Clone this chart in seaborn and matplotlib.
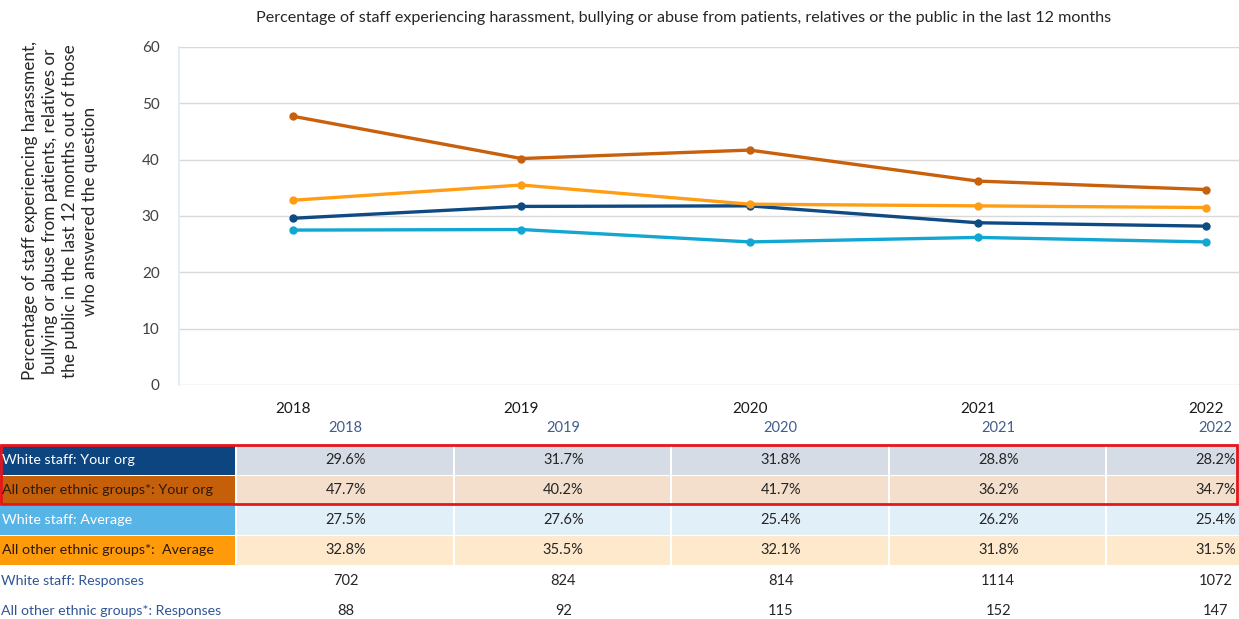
import seaborn as sns
import matplotlib.pyplot as plt
import matplotlib.patches as patches
import pandas as pd

# Data
years = ["2018", "2019", "2020", "2021", "2022"]
white_org = [29.6, 31.7, 31.8, 28.8, 28.2]
other_org = [47.7, 40.2, 41.7, 36.2, 34.7]
white_avg = [27.5, 27.6, 25.4, 26.2, 25.4]
other_avg = [32.8, 35.5, 32.1, 31.8, 31.5]
white_resp = [702, 824, 814, 1114, 1072]
other_resp = [88, 92, 115, 152, 147]

series_names = [
    "White staff: Your org",
    "All other ethnic groups*: Your org",
    "White staff: Average",
    "All other ethnic groups*:  Average",
]
line_colors = ["#0F4A82", "#C8600C", "#12A6D2", "#FF9E14"]
label_bg = ["#0C4580", "#C55F0A", "#56B4E6", "#FF9A0A"]
label_fg = ["white", "#2B1A0A", "white", "#2B1A0A"]
cell_bg = ["#D5DCE5", "#F4DFCD", "#E1EFF9", "#FFE9CC"]

sns.set_theme(style="white")
plt.rcParams['font.family'] = ['Lato', 'DejaVu Sans']

W, H = 1239, 619
fig = plt.figure(figsize=(W / 100, H / 100), dpi=100)

# Line chart
ax = fig.add_axes([179 / W, (H - 385) / H, (W - 179) / W, 338 / H])
rows = []
for name, vals in zip(series_names, [white_org, other_org, white_avg, other_avg]):
    for i, v in enumerate(vals):
        rows.append({"series": name, "x": i, "value": v})
df = pd.DataFrame(rows)
sns.lineplot(data=df, x="x", y="value", hue="series", palette=line_colors,
             marker="o", markersize=6, markeredgewidth=0, linewidth=2.4,
             legend=False, ax=ax)

ax.set_xlim(-0.5, (1239 - 293) / 228.25)
ax.set_ylim(0, 60)
ax.set_yticks(range(0, 61, 10))
ax.yaxis.grid(True, color="#D9D9D9", linewidth=1)
ax.set_axisbelow(True)
ax.set_xticks(range(len(years)))
ax.set_xticklabels(years, fontsize=11, color="#1A1A1A")
ax.tick_params(axis="y", labelsize=11, labelcolor="#404040", length=0, pad=14)
ax.tick_params(axis="x", length=0, pad=12)
for s in ["top", "right", "bottom"]:
    ax.spines[s].set_visible(False)
ax.spines["left"].set_color("#DDEBF7")
ax.set_xlabel("")
ax.set_ylabel("")

fig.text(684 / W, 1 - 18 / H,
         "Percentage of staff experiencing harassment, bullying or abuse from patients, relatives or the public in the last 12 months",
         ha="center", va="center", fontsize=11.6, color="#262626")
fig.text(60 / W, 1 - 211 / H,
         "Percentage of staff experiencing harassment,\nbullying or abuse from patients, relatives or\nthe public in the last 12 months out of those\nwho answered the question",
         ha="center", va="center", rotation=90, fontsize=12.3, color="#262626",
         linespacing=1.3)

# Table below the chart, in pixel-like coordinates
tax = fig.add_axes([0, 0, 1, 1], zorder=-1)
tax.set_xlim(0, W)
tax.set_ylim(H, 0)
tax.axis("off")

col_x0 = 237
col_w = 217.5
for i, y in enumerate(years):
    tax.text(col_x0 + col_w * (i + 0.5), 428, y, ha="center", va="center",
             fontsize=10.5, color="#3F5E8C")

row_tops = [446, 476, 506, 536]
row_h = 28.5
row_vals = [white_org, other_org, white_avg, other_avg]
for r, (name, vals) in enumerate(zip(series_names, row_vals)):
    top = row_tops[r]
    tax.add_patch(patches.Rectangle((0, top), 235, row_h, color=label_bg[r], lw=0))
    tax.text(2, top + row_h / 2, name, ha="left", va="center", fontsize=10.3,
             color=label_fg[r])
    for i, v in enumerate(vals):
        x0 = col_x0 + col_w * i
        tax.add_patch(patches.Rectangle((x0, top), col_w - 2, row_h,
                                        color=cell_bg[r], lw=0))
        tax.text(x0 + col_w / 2, top + row_h / 2, f"{v:.1f}%", ha="center",
                 va="center", fontsize=10.5, color="#262626")

for yc, name, vals in [(581, "White staff: Responses", white_resp),
                       (611, "All other ethnic groups*: Responses", other_resp)]:
    tax.text(1, yc, name, ha="left", va="center", fontsize=10.2, color="#2F5597")
    for i, v in enumerate(vals):
        tax.text(col_x0 + col_w * (i + 0.5), yc, str(v), ha="center",
                 va="center", fontsize=10.5, color="#262626")

# Red highlight around the "Your org" rows
tax.add_patch(patches.Rectangle((0.5, 444.5), 1236.5, 59, fill=False,
                                edgecolor="#E8141B", linewidth=2))

fig.savefig("out.png", dpi=100)
